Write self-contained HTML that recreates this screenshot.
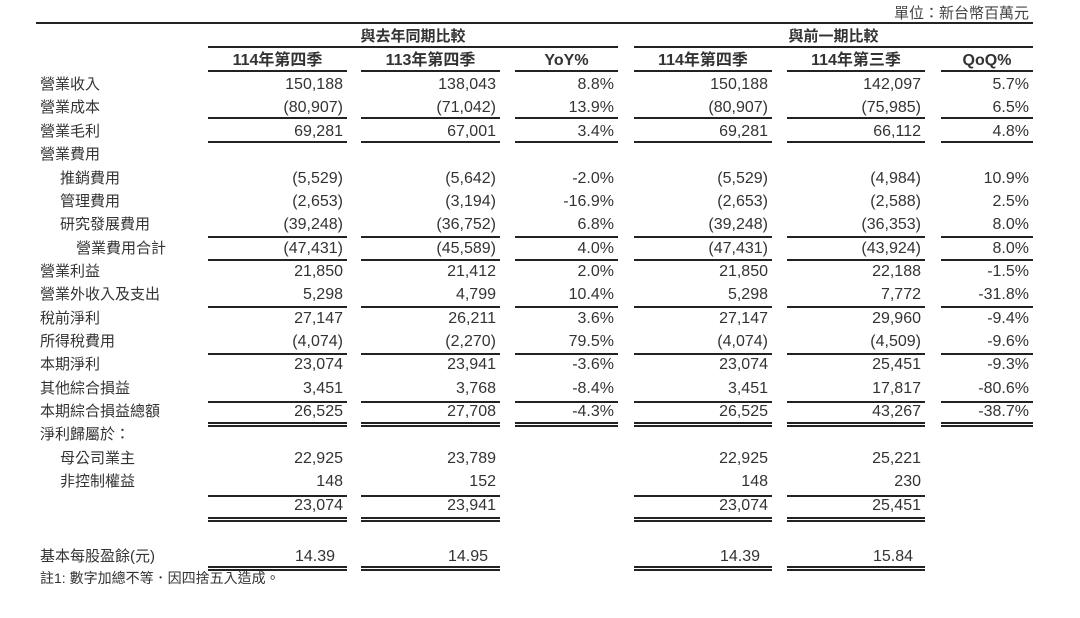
<!DOCTYPE html>
<html><head><meta charset="utf-8"><style>
body{margin:0;width:1080px;height:618px;background:#fff;position:relative;overflow:hidden;font-family:"Liberation Sans","Noto Sans CJK TC",sans-serif;font-size:15px;color:#333}
.r{position:absolute;left:0;width:1080px;height:23px;line-height:23px}
.r span{position:absolute;top:0;white-space:nowrap}
.l{left:40px}.l2{left:60px}.l3{left:76px}
.c1,.c2,.c3,.c4,.c5,.c6{font-size:16px}
.c1{left:208px;width:135px;text-align:right}
.c2{left:361px;width:135px;text-align:right}
.c3{left:515px;width:99px;text-align:right}
.c4{left:634px;width:134px;text-align:right}
.c5{left:787px;width:134px;text-align:right}
.c6{left:941px;width:88px;text-align:right}
.h span{text-align:center;font-weight:bold;padding:0}
.h .c1,.h .c2,.h .c3,.h .c4,.h .c5,.h .c6{text-align:center}
.h .c1{width:139px}.h .c2{width:139px}.h .c3{width:103px}.h .c4{width:138px}.h .c5{width:138px}.h .c6{width:92px}
.ln{position:absolute;height:0;border-top:2px solid #222}
.dl{position:absolute;height:1px;border-top:2px solid #222;border-bottom:2px solid #222}
</style></head><body>
<div style="position:absolute;right:51px;top:2px;font-size:15px;color:#444">單位：新台幣百萬元</div>
<div class="ln" style="left:36px;width:997px;top:22px"></div>
<div class="r" style="top:25px;font-weight:bold"><span style="left:208px;width:410px;text-align:center">與去年同期比較</span><span style="left:634px;width:399px;text-align:center">與前一期比較</span></div>
<div class="ln" style="left:208px;width:410px;top:46px"></div>
<div class="ln" style="left:634px;width:399px;top:46px"></div>
<div class="r h" style="top:49px"><span class="c1">114年第四季</span><span class="c2">113年第四季</span><span class="c3">YoY%</span><span class="c4">114年第四季</span><span class="c5">114年第三季</span><span class="c6">QoQ%</span></div>

<div class="r" style="top:73px"><span class="l">營業收入</span><span class="c1">150,188</span><span class="c2">138,043</span><span class="c3">8.8%</span><span class="c4">150,188</span><span class="c5">142,097</span><span class="c6">5.7%</span></div>
<div class="r" style="top:96px"><span class="l">營業成本</span><span class="c1">(80,907)</span><span class="c2">(71,042)</span><span class="c3">13.9%</span><span class="c4">(80,907)</span><span class="c5">(75,985)</span><span class="c6">6.5%</span></div>
<div class="r" style="top:120px"><span class="l">營業毛利</span><span class="c1">69,281</span><span class="c2">67,001</span><span class="c3">3.4%</span><span class="c4">69,281</span><span class="c5">66,112</span><span class="c6">4.8%</span></div>
<div class="r" style="top:143px"><span class="l">營業費用</span></div>
<div class="r" style="top:167px"><span class="l2">推銷費用</span><span class="c1">(5,529)</span><span class="c2">(5,642)</span><span class="c3">-2.0%</span><span class="c4">(5,529)</span><span class="c5">(4,984)</span><span class="c6">10.9%</span></div>
<div class="r" style="top:190px"><span class="l2">管理費用</span><span class="c1">(2,653)</span><span class="c2">(3,194)</span><span class="c3">-16.9%</span><span class="c4">(2,653)</span><span class="c5">(2,588)</span><span class="c6">2.5%</span></div>
<div class="r" style="top:213px"><span class="l2">研究發展費用</span><span class="c1">(39,248)</span><span class="c2">(36,752)</span><span class="c3">6.8%</span><span class="c4">(39,248)</span><span class="c5">(36,353)</span><span class="c6">8.0%</span></div>
<div class="r" style="top:237px"><span class="l3">營業費用合計</span><span class="c1">(47,431)</span><span class="c2">(45,589)</span><span class="c3">4.0%</span><span class="c4">(47,431)</span><span class="c5">(43,924)</span><span class="c6">8.0%</span></div>
<div class="r" style="top:260px"><span class="l">營業利益</span><span class="c1">21,850</span><span class="c2">21,412</span><span class="c3">2.0%</span><span class="c4">21,850</span><span class="c5">22,188</span><span class="c6">-1.5%</span></div>
<div class="r" style="top:283px"><span class="l">營業外收入及支出</span><span class="c1">5,298</span><span class="c2">4,799</span><span class="c3">10.4%</span><span class="c4">5,298</span><span class="c5">7,772</span><span class="c6">-31.8%</span></div>
<div class="r" style="top:307px"><span class="l">稅前淨利</span><span class="c1">27,147</span><span class="c2">26,211</span><span class="c3">3.6%</span><span class="c4">27,147</span><span class="c5">29,960</span><span class="c6">-9.4%</span></div>
<div class="r" style="top:330px"><span class="l">所得稅費用</span><span class="c1">(4,074)</span><span class="c2">(2,270)</span><span class="c3">79.5%</span><span class="c4">(4,074)</span><span class="c5">(4,509)</span><span class="c6">-9.6%</span></div>
<div class="r" style="top:353px"><span class="l">本期淨利</span><span class="c1">23,074</span><span class="c2">23,941</span><span class="c3">-3.6%</span><span class="c4">23,074</span><span class="c5">25,451</span><span class="c6">-9.3%</span></div>
<div class="r" style="top:377px"><span class="l">其他綜合損益</span><span class="c1">3,451</span><span class="c2">3,768</span><span class="c3">-8.4%</span><span class="c4">3,451</span><span class="c5">17,817</span><span class="c6">-80.6%</span></div>
<div class="r" style="top:400px"><span class="l">本期綜合損益總額</span><span class="c1">26,525</span><span class="c2">27,708</span><span class="c3">-4.3%</span><span class="c4">26,525</span><span class="c5">43,267</span><span class="c6">-38.7%</span></div>
<div class="r" style="top:423px"><span class="l">淨利歸屬於：</span></div>
<div class="r" style="top:447px"><span class="l2">母公司業主</span><span class="c1">22,925</span><span class="c2">23,789</span><span class="c4">22,925</span><span class="c5">25,221</span></div>
<div class="r" style="top:470px"><span class="l2">非控制權益</span><span class="c1">148</span><span class="c2">152</span><span class="c4">148</span><span class="c5">230</span></div>
<div class="r" style="top:494px"><span class="c1">23,074</span><span class="c2">23,941</span><span class="c4">23,074</span><span class="c5">25,451</span></div>
<div class="r" style="top:545px"><span class="l">基本每股盈餘(元)</span><span class="c1" style="width:127px">14.39</span><span class="c2" style="width:127px">14.95</span><span class="c4" style="width:126px">14.39</span><span class="c5" style="width:126px">15.84</span></div>
<div class="r" style="top:567px;font-size:14px"><span class="l">註1: 數字加總不等．因四捨五入造成。</span></div>

<div class="ln" style="left:208px;width:139px;top:70px"></div><div class="ln" style="left:361px;width:139px;top:70px"></div><div class="ln" style="left:515px;width:103px;top:70px"></div><div class="ln" style="left:634px;width:138px;top:70px"></div><div class="ln" style="left:787px;width:138px;top:70px"></div><div class="ln" style="left:941px;width:92px;top:70px"></div>
<div class="ln" style="left:208px;width:139px;top:117px"></div><div class="ln" style="left:361px;width:139px;top:117px"></div><div class="ln" style="left:515px;width:103px;top:117px"></div><div class="ln" style="left:634px;width:138px;top:117px"></div><div class="ln" style="left:787px;width:138px;top:117px"></div><div class="ln" style="left:941px;width:92px;top:117px"></div>
<div class="ln" style="left:208px;width:139px;top:141px"></div><div class="ln" style="left:361px;width:139px;top:141px"></div><div class="ln" style="left:515px;width:103px;top:141px"></div><div class="ln" style="left:634px;width:138px;top:141px"></div><div class="ln" style="left:787px;width:138px;top:141px"></div><div class="ln" style="left:941px;width:92px;top:141px"></div>
<div class="ln" style="left:208px;width:139px;top:236px"></div><div class="ln" style="left:361px;width:139px;top:236px"></div><div class="ln" style="left:515px;width:103px;top:236px"></div><div class="ln" style="left:634px;width:138px;top:236px"></div><div class="ln" style="left:787px;width:138px;top:236px"></div><div class="ln" style="left:941px;width:92px;top:236px"></div>
<div class="ln" style="left:208px;width:139px;top:259px"></div><div class="ln" style="left:361px;width:139px;top:259px"></div><div class="ln" style="left:515px;width:103px;top:259px"></div><div class="ln" style="left:634px;width:138px;top:259px"></div><div class="ln" style="left:787px;width:138px;top:259px"></div><div class="ln" style="left:941px;width:92px;top:259px"></div>
<div class="ln" style="left:208px;width:139px;top:306px"></div><div class="ln" style="left:361px;width:139px;top:306px"></div><div class="ln" style="left:515px;width:103px;top:306px"></div><div class="ln" style="left:634px;width:138px;top:306px"></div><div class="ln" style="left:787px;width:138px;top:306px"></div><div class="ln" style="left:941px;width:92px;top:306px"></div>
<div class="ln" style="left:208px;width:139px;top:353px"></div><div class="ln" style="left:361px;width:139px;top:353px"></div><div class="ln" style="left:515px;width:103px;top:353px"></div><div class="ln" style="left:634px;width:138px;top:353px"></div><div class="ln" style="left:787px;width:138px;top:353px"></div><div class="ln" style="left:941px;width:92px;top:353px"></div>
<div class="ln" style="left:208px;width:139px;top:401px"></div><div class="ln" style="left:361px;width:139px;top:401px"></div><div class="ln" style="left:515px;width:103px;top:401px"></div><div class="ln" style="left:634px;width:138px;top:401px"></div><div class="ln" style="left:787px;width:138px;top:401px"></div><div class="ln" style="left:941px;width:92px;top:401px"></div>
<div class="dl" style="left:208px;width:139px;top:422px"></div><div class="dl" style="left:361px;width:139px;top:422px"></div><div class="dl" style="left:515px;width:103px;top:422px"></div><div class="dl" style="left:634px;width:138px;top:422px"></div><div class="dl" style="left:787px;width:138px;top:422px"></div><div class="dl" style="left:941px;width:92px;top:422px"></div>
<div class="ln" style="left:208px;width:139px;top:495px"></div><div class="ln" style="left:361px;width:139px;top:495px"></div><div class="ln" style="left:634px;width:138px;top:495px"></div><div class="ln" style="left:787px;width:138px;top:495px"></div>
<div class="dl" style="left:208px;width:139px;top:517px"></div><div class="dl" style="left:361px;width:139px;top:517px"></div><div class="dl" style="left:634px;width:138px;top:517px"></div><div class="dl" style="left:787px;width:138px;top:517px"></div>
<div class="dl" style="left:208px;width:139px;top:566px"></div><div class="dl" style="left:361px;width:139px;top:566px"></div><div class="dl" style="left:634px;width:138px;top:566px"></div><div class="dl" style="left:787px;width:138px;top:566px"></div>
</body></html>
